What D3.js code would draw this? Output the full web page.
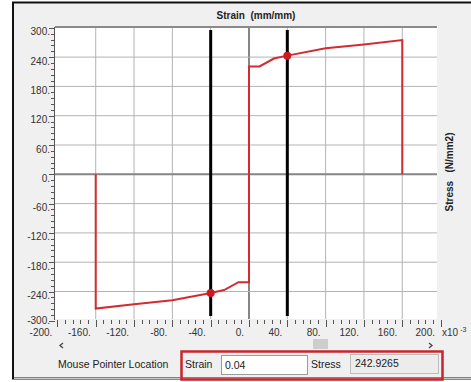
<!DOCTYPE html>
<html>
<head>
<meta charset="utf-8">
<script src="https://cdn.jsdelivr.net/npm/d3@7"></script>
<style>
  body { margin: 0; background: #fff; }
  svg { display: block; font-family: "Liberation Sans", Arial, sans-serif; }
</style>
</head>
<body>
<div class="canvas"></div>
<script>
// hysteresis loop, strain in x10^-3 mm/mm, stress in N/mm2
const strain = [-160, -160, -120, -80, -40, -26, -11, 0, 0, 11, 26, 40, 80, 120, 160, 160];
const stress = [0, -275, -266, -258, -243, -237, -221, -221, 221, 221, 237, 243, 258, 266, 275, 0];

// cursor lines + readout
const cursorStrain = [-40, 40];
const cursorStress = [-242.9265, 242.9265];
const readStrain = '0.04';
const readStress = '242.9265';

const xTicks = d3.range(-200, 201, 40);
const yTicks = d3.range(-300, 301, 60);

const svg = d3.select('.canvas')
    .append('svg')
    .attr('width', 471)
    .attr('height', 382);

// window frame
svg.append('rect')
    .attr('x', 13).attr('y', 2.5)
    .attr('width', 470).attr('height', 376)
    .attr('fill', '#f0f0f0')
    .attr('stroke', '#111')
    .attr('stroke-width', 2);
svg.append('line')
    .attr('x1', 14).attr('x2', 471)
    .attr('y1', 378.5).attr('y2', 378.5)
    .attr('stroke', '#c8c8c8');

const plot = { left: 55, right: 437, top: 27, bottom: 319 };

const x = d3.scaleLinear().domain([-200, 200]).range([57.4, 440.6]);
const y = d3.scaleLinear().domain([-300, 300]).range([320.8, 27.8]);

svg.append('clipPath').attr('id', 'clip')
    .append('rect')
    .attr('x', plot.left).attr('y', plot.top)
    .attr('width', plot.right - plot.left)
    .attr('height', plot.bottom - plot.top);

svg.append('rect')
    .attr('x', plot.left).attr('y', plot.top)
    .attr('width', plot.right - plot.left)
    .attr('height', plot.bottom - plot.top)
    .attr('fill', '#fff');

const graph = svg.append('g').attr('clip-path', 'url(#clip)');

// grid
graph.selectAll('.vgrid')
    .data(xTicks.filter(d => d > -200 && d < 200))
    .enter().append('line')
    .attr('x1', d => x(d)).attr('x2', d => x(d))
    .attr('y1', plot.top).attr('y2', plot.bottom)
    .attr('stroke', d => d === 0 ? '#858585' : '#b3b3b3')
    .attr('stroke-width', d => d === 0 ? 2 : 1);

graph.selectAll('.hgrid')
    .data(yTicks.filter(d => d > -300 && d < 300))
    .enter().append('line')
    .attr('x1', plot.left).attr('x2', plot.right)
    .attr('y1', d => y(d)).attr('y2', d => y(d))
    .attr('stroke', d => d === 0 ? '#858585' : '#b3b3b3')
    .attr('stroke-width', d => d === 0 ? 2 : 1);

// top edge
svg.append('line')
    .attr('x1', plot.left).attr('x2', plot.right)
    .attr('y1', plot.top).attr('y2', plot.top)
    .attr('stroke', '#8a8a8a').attr('stroke-width', 2);

// the curve
const pts = strain.map((s, i) => [s, stress[i]]);
graph.append('path')
    .datum(pts)
    .attr('d', d3.line().x(d => x(d[0])).y(d => y(d[1])))
    .attr('fill', 'none')
    .attr('stroke', '#d22b30')
    .attr('stroke-width', 2);

// cursor lines
graph.selectAll('.cursor')
    .data(cursorStrain)
    .enter().append('line')
    .attr('x1', d => x(d)).attr('x2', d => x(d))
    .attr('y1', plot.top + 3).attr('y2', plot.bottom - 3)
    .attr('stroke', '#000').attr('stroke-width', 3);

graph.selectAll('.marker')
    .data(cursorStrain)
    .enter().append('circle')
    .attr('cx', d => x(d))
    .attr('cy', (d, i) => y(cursorStress[i]))
    .attr('r', 4)
    .attr('fill', '#cc1a22');

// y axis
const yMinor = d3.range(-300, 301, 12);
svg.append('line')
    .attr('x1', plot.left - 0.5).attr('x2', plot.left - 0.5)
    .attr('y1', plot.top).attr('y2', 320)
    .attr('stroke', '#555');
svg.selectAll('.ytick')
    .data(yMinor)
    .enter().append('line')
    .attr('x1', d => d % 60 === 0 ? plot.left - 6 : plot.left - 4)
    .attr('x2', plot.left)
    .attr('y1', d => Math.round(y(d)) + 0.5).attr('y2', d => Math.round(y(d)) + 0.5)
    .attr('stroke', '#555');
svg.selectAll('.ylab')
    .data(yTicks)
    .enter().append('text')
    .attr('x', 50)
    .attr('y', d => Math.min(y(d) + 7.5, 324))
    .attr('text-anchor', 'end')
    .attr('font-size', 10)
    .attr('fill', '#333')
    .text(d => d + '.');

// x axis
const xMinor = d3.range(-200, 201, 8);
svg.selectAll('.xtick')
    .data(xMinor)
    .enter().append('line')
    .attr('x1', d => Math.round(x(d)) + 0.5).attr('x2', d => Math.round(x(d)) + 0.5)
    .attr('y1', 320)
    .attr('y2', d => d % 40 === 0 ? 327 : 324)
    .attr('stroke', '#555');
svg.selectAll('.xlab')
    .data(xTicks)
    .enter().append('text')
    .attr('x', d => Math.min(x(d) - 5, 435))
    .attr('y', 336)
    .attr('text-anchor', 'end')
    .attr('font-size', 10)
    .attr('fill', '#333')
    .text(d => d + '.');
const xUnit = svg.append('text')
    .attr('x', 442).attr('y', 336)
    .attr('font-size', 10).attr('fill', '#333');
xUnit.append('tspan').text('x10');
xUnit.append('tspan').attr('dx', 2).attr('dy', -4).attr('font-size', 7).text('-3');

// axis titles
svg.append('text')
    .attr('x', 256).attr('y', 19)
    .attr('text-anchor', 'middle')
    .attr('font-size', 10).attr('font-weight', 'bold')
    .attr('fill', '#222')
    .attr('xml:space', 'preserve')
    .text('Strain  (mm/mm)');
svg.append('text')
    .attr('transform', 'translate(453, 172) rotate(-90)')
    .attr('text-anchor', 'middle')
    .attr('font-size', 10).attr('font-weight', 'bold')
    .attr('fill', '#222')
    .attr('xml:space', 'preserve')
    .text('Stress   (N/mm2)');

// scrollbar
svg.append('path')
    .attr('d', 'M63,343 L60,345.5 L63,348')
    .attr('fill', 'none').attr('stroke', '#444').attr('stroke-width', 1.3);
svg.append('path')
    .attr('d', 'M429,343 L432,345.5 L429,348')
    .attr('fill', 'none').attr('stroke', '#444').attr('stroke-width', 1.3);
svg.append('rect')
    .attr('x', 313).attr('y', 339)
    .attr('width', 15).attr('height', 10)
    .attr('fill', '#cdcdcd');

// readout row
svg.append('text')
    .attr('x', 58).attr('y', 368)
    .attr('font-size', 10.5).attr('fill', '#222')
    .text('Mouse Pointer Location');
svg.append('rect')
    .attr('x', 181.5).attr('y', 351.5)
    .attr('width', 261).attr('height', 28)
    .attr('fill', 'none')
    .attr('stroke', '#c9242c').attr('stroke-width', 2.5);
svg.append('text')
    .attr('x', 185).attr('y', 368)
    .attr('font-size', 10.5).attr('fill', '#222')
    .text('Strain');
svg.append('rect')
    .attr('x', 221.5).attr('y', 355.5)
    .attr('width', 86).attr('height', 19)
    .attr('fill', '#fff').attr('stroke', '#9a9a9a');
svg.append('text')
    .attr('x', 225).attr('y', 369)
    .attr('font-size', 10.5).attr('fill', '#222')
    .text(readStrain);
svg.append('text')
    .attr('x', 311).attr('y', 368)
    .attr('font-size', 10.5).attr('fill', '#222')
    .text('Stress');
svg.append('rect')
    .attr('x', 350.5).attr('y', 354.5)
    .attr('width', 88).attr('height', 19)
    .attr('fill', '#ececec').attr('stroke', '#bcbcbc');
svg.append('text')
    .attr('x', 355).attr('y', 367)
    .attr('font-size', 10.5).attr('fill', '#222')
    .text(readStress);
</script>
</body>
</html>
